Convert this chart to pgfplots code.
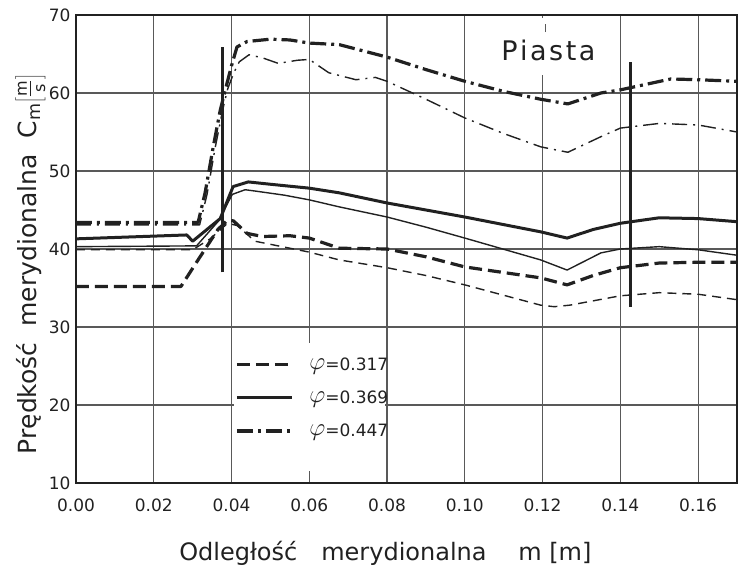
\documentclass[border=0pt]{standalone}
\usepackage{fontspec}
\setmainfont{DejaVu Sans}
\usepackage{pgfplots}
\pgfplotsset{compat=1.18}

\definecolor{ink}{gray}{0.13}
\definecolor{gridc}{gray}{0.35}
\newcommand{\phiv}{\raisebox{1pt}{\fontsize{27}{27}\selectfont$\varphi$}}

\begin{document}
\begin{tikzpicture}
\useasboundingbox (-76pt,-92pt) rectangle (663pt,483pt);
\begin{axis}[
  scale only axis,
  width=661pt, height=468pt,
  xmin=0, xmax=0.17,
  ymin=10, ymax=70,
  xtick={0,0.02,0.04,0.06,0.08,0.10,0.12,0.14,0.16},
  xticklabels={0.00,0.02,0.04,0.06,0.08,0.10,0.12,0.14,0.16},
  ytick={10,20,30,40,50,60,70},
  /pgf/number format/assume math mode=true,
  grid=major,
  major grid style={gridc, line width=1.2pt},
  axis line style={ink, line width=2.6pt},
  tick style={draw=none},
  tick label style={font=\fontsize{17}{20}\selectfont, text=ink},
  xticklabel style={anchor=center, yshift=-22pt},
  yticklabel style={anchor=east, xshift=-2pt},
  xlabel={Odległość\quad merydionalna\quad\ m [m]},
  ylabel={Prędkość\ \ merydionalna\ \ C\textsubscript{m}$\left[\frac{\mbox{\fontsize{16}{16}\selectfont m}}{\mbox{\fontsize{16}{16}\selectfont s}}\right]$},
  xlabel style={at={(axis description cs:0.468,-0.150)}, anchor=center, font=\fontsize{24}{28}\selectfont, text=ink},
  ylabel style={at={(axis description cs:-0.069,0.468)}, anchor=center, font=\fontsize{25}{28}\selectfont, text=ink},
  legend style={at={(axis cs:0.0409,26.1)}, anchor=north west, draw=none, fill=none,
    font=\fontsize{17}{20}\selectfont, text=ink, row sep=19pt, column sep=16pt,
    inner sep=0pt, nodes={inner sep=0pt}, cells={anchor=west}},
  legend image code/.code={\draw[#1] (0pt,0pt) -- (55pt,0pt);},
]
% white patches that break the grid (legend area, label "Piasta")
\fill[white] (axis cs:0.0406,11.6) rectangle (axis cs:0.0795,27.9);
\fill[white] (axis cs:0.1185,62.3) rectangle (axis cs:0.1228,69.6);

% phi = 0.317, thick
\addplot[forget plot, ink, line width=3.2pt, dash pattern=on 13pt off 6pt, line join=round] coordinates {
(0,35.2) (0.027,35.2) (0.031,38.3) (0.0365,42.5) (0.039,43.7) (0.0405,43.6) (0.044,42.0)
(0.048,41.6) (0.055,41.7) (0.06,41.4) (0.0677,40.1) (0.08,40.0) (0.09,39.0) (0.10,37.7)
(0.1195,36.3) (0.1263,35.4) (0.133,36.6) (0.14,37.6) (0.15,38.2) (0.16,38.3) (0.17,38.3)};
% phi = 0.317, thin
\addplot[forget plot, ink, line width=1.4pt, dash pattern=on 9pt off 6pt, line join=round] coordinates {
(0,39.9) (0.030,39.9) (0.0345,41.3) (0.039,43.3) (0.0415,43.0) (0.046,41.0) (0.051,40.5)
(0.06,39.6) (0.0677,38.6) (0.08,37.6) (0.09,36.6) (0.10,35.4) (0.1195,32.8) (0.123,32.6)
(0.127,32.8) (0.14,34.0) (0.15,34.4) (0.16,34.2) (0.17,33.5)};
% phi = 0.369, thick
\addplot[forget plot, ink, line width=3.0pt, line join=round] coordinates {
(0,41.3) (0.0285,41.8) (0.030,41.0) (0.0371,43.9) (0.0404,48.0) (0.0443,48.6) (0.05,48.3)
(0.06,47.8) (0.0677,47.2) (0.08,45.9) (0.09,45.0) (0.10,44.1) (0.1195,42.2) (0.1263,41.4)
(0.133,42.5) (0.14,43.3) (0.15,44.0) (0.16,43.9) (0.17,43.5)};
% phi = 0.369, thin
\addplot[forget plot, ink, line width=1.4pt, line join=round] coordinates {
(0,40.3) (0.031,40.4) (0.0365,43.5) (0.0402,47.0) (0.0435,47.6) (0.0465,47.4) (0.0536,46.9)
(0.06,46.3) (0.0677,45.4) (0.08,44.1) (0.09,42.8) (0.10,41.4) (0.1195,38.6) (0.1263,37.3)
(0.135,39.5) (0.14,40.0) (0.15,40.3) (0.16,39.9) (0.17,39.2)};
% phi = 0.447, thick
\addplot[forget plot, ink, line width=3.2pt, dash pattern=on 16pt off 5pt on 3pt off 5pt, line join=round] coordinates {
(0,43.4) (0.0314,43.4) (0.0332,47.2) (0.0353,53.1) (0.0371,57.8) (0.0384,60.4) (0.040,63.5)
(0.0414,65.9) (0.044,66.6) (0.05,66.9) (0.055,66.8) (0.06,66.4) (0.0677,66.2) (0.08,64.6)
(0.09,63.0) (0.10,61.5) (0.11,60.2) (0.1195,59.2) (0.1265,58.6) (0.135,60.0) (0.14,60.4)
(0.153,61.8) (0.16,61.7) (0.17,61.5)};
% phi = 0.447, thin
\addplot[forget plot, ink, line width=1.4pt, dash pattern=on 15pt off 6pt on 2pt off 6pt, line join=round] coordinates {
(0,43.1) (0.0318,43.1) (0.0337,47.0) (0.0358,53.0) (0.0378,58.0) (0.039,60.5) (0.0405,62.5)
(0.042,64.0) (0.0445,64.9) (0.048,64.5) (0.052,63.8) (0.057,64.2) (0.06,64.3) (0.065,62.6)
(0.072,61.7) (0.077,62.0) (0.08,61.5) (0.09,59.2) (0.10,56.8) (0.11,54.8) (0.1195,53.1)
(0.1265,52.4) (0.135,54.4) (0.14,55.5) (0.15,56.1) (0.16,55.9) (0.17,55.0)};

% vertical marker lines
\addplot[forget plot, ink, line width=3.2pt] coordinates {(0.0376,37.0) (0.0376,65.9)};
\addplot[forget plot, ink, line width=3.2pt] coordinates {(0.1426,32.6) (0.1426,64.0)};
\addplot[forget plot, gridc, line width=1.2pt] coordinates {(0.1207,67.8) (0.1207,68.8)};

\node[text=ink, font=\fontsize{27}{30}\selectfont] at (axis cs:0.1215,65.4) {P\kern2.5pt i\kern2.5pt a\kern2.5pt s\kern2.5pt t\kern2.5pt a};

\addlegendimage{ink, line width=3.2pt, dash pattern=on 13pt off 6pt}
\addlegendentry{\phiv=0.317}
\addlegendimage{ink, line width=3.0pt}
\addlegendentry{\phiv=0.369}
\addlegendimage{ink, line width=3.2pt, dash pattern=on 16pt off 5pt on 3pt off 5pt}
\addlegendentry{\phiv=0.447}
\end{axis}
\end{tikzpicture}
\end{document}
